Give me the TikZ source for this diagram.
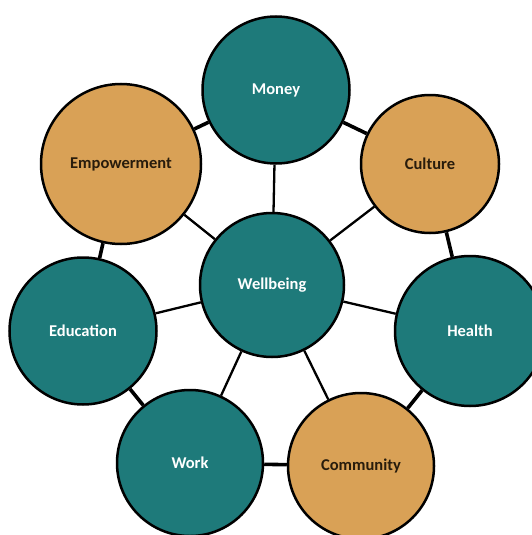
\documentclass[tikz,border=0pt]{standalone}
\usepackage{fontspec}
\setmainfont{Carlito}
\usetikzlibrary{positioning}

\definecolor{tealfill}{RGB}{30,122,122}
\definecolor{goldfill}{RGB}{217,161,86}
\definecolor{darktext}{RGB}{40,28,12}

\begin{document}
\begin{tikzpicture}[
    x=1pt, y=-1pt,
    hub/.style={draw=black, line width=2.5pt, circle, inner sep=0pt, fill=tealfill, text=white, font=\bfseries\fontsize{16.5}{18}\selectfont},
    gold/.style={hub, fill=goldfill, text=darktext},
    ring/.style={draw, line width=3.6pt},
    spoke/.style={draw, line width=2.3pt}
]
\useasboundingbox (0,0) rectangle (532,535);
\clip (0,0) rectangle (532,535);

% centre and the seven outer circles
\node[hub, minimum size=144pt] (wellbeing) at (272,285) {Wellbeing};
\node[hub, minimum size=147pt] (money) at (276,90) {Money};
\node[gold, minimum size=138pt] (culture) at (430,164) {Culture};
\node[hub, minimum size=150pt] (health) at (470,331) {Health};
\node[gold, minimum size=146pt] (community) at (361,466) {Community};
\node[hub, minimum size=146pt] (work) at (190,463) {Work};
\node[hub, minimum size=147pt] (education) at (83,331) {Education};
\node[gold, minimum size=160pt] (empower) at (121,164) {Empowerment};

% outer ring
\draw[ring] (money) -- (culture);
\draw[ring] (culture) -- (health);
\draw[ring] (health) -- (community);
\draw[ring] (community) -- (work);
\draw[ring] (work) -- (education);
\draw[ring] (education) -- (empower);
\draw[ring] (empower) -- (money);

% spokes to the centre
\foreach \n in {money,culture,health,community,work,education,empower}
    \draw[spoke] (wellbeing) -- (\n);

\end{tikzpicture}
\end{document}
